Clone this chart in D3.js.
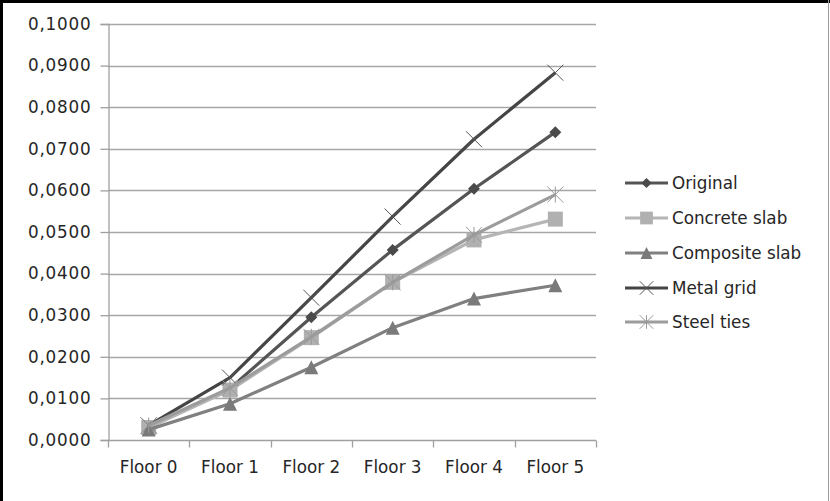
<!DOCTYPE html>
<html>
<head>
<meta charset="utf-8">
<script src="https://cdn.jsdelivr.net/npm/d3@7"></script>
<style>
  html, body { margin: 0; padding: 0; background: #fff; }
  svg { display: block; }
  text { font-family: "DejaVu Sans", "Open Sans", sans-serif; fill: #262626; }
</style>
</head>
<body>
<svg id="chart" width="830" height="501"></svg>
<script>
// Storey drift per floor for each strengthening option
const floors = ["Floor 0", "Floor 1", "Floor 2", "Floor 3", "Floor 4", "Floor 5"];
const seriesNames = ["Original", "Concrete slab", "Composite slab", "Metal grid", "Steel ties"];
const original      = [0.0030, 0.0124, 0.0295, 0.0457, 0.0604, 0.0740];
const concreteSlab  = [0.0030, 0.0120, 0.0246, 0.0379, 0.0481, 0.0531];
const compositeSlab = [0.0025, 0.0087, 0.0175, 0.0270, 0.0340, 0.0372];
const metalGrid     = [0.0035, 0.0150, 0.0342, 0.0537, 0.0723, 0.0883];
const steelTies     = [0.0035, 0.0125, 0.0248, 0.0379, 0.0493, 0.0590];
const yTicks = [0, 0.01, 0.02, 0.03, 0.04, 0.05, 0.06, 0.07, 0.08, 0.09, 0.10];

const seriesValues = [original, concreteSlab, compositeSlab, metalGrid, steelTies];
const styles = [
  { color: "#555555", markColor: "#4a4a4a", marker: "diamond" },
  { color: "#b5b5b5", markColor: "#b0b0b0", marker: "square" },
  { color: "#808080", markColor: "#7a7a7a", marker: "triangle" },
  { color: "#454545", markColor: "#555555", marker: "x" },
  { color: "#9c9c9c", markColor: "#999999", marker: "star" }
];

const svg = d3.select("#chart");
const W = 830, H = 501;
const FONT = 16.8;

// frame
svg.append("rect").attr("x", 0).attr("y", 0).attr("width", W).attr("height", H).attr("fill", "#fff");
svg.append("line").attr("x1", 1.5).attr("x2", 1.5).attr("y1", 0).attr("y2", H).attr("stroke", "#000").attr("stroke-width", 3);
svg.append("line").attr("x1", 0).attr("x2", W).attr("y1", 1.5).attr("y2", 1.5).attr("stroke", "#000").attr("stroke-width", 3);
svg.append("line").attr("x1", 828.5).attr("x2", 828.5).attr("y1", 0).attr("y2", H).attr("stroke", "#9a9a9a").attr("stroke-width", 1);

const plot = { left: 108, right: 596, top: 24, bottom: 440 };

const x = d3.scaleBand().domain(floors).range([plot.left, plot.right]).padding(0);
const y = d3.scaleLinear().domain([0, 0.10]).range([plot.bottom, plot.top]);

const locale = d3.formatLocale({ decimal: ",", thousands: ".", grouping: [3], currency: ["", ""] });
const fmt = locale.format(".4f");

// horizontal gridlines
svg.append("g").selectAll("line").data(yTicks.slice(1)).join("line")
  .attr("x1", plot.left).attr("x2", plot.right)
  .attr("y1", d => Math.round(y(d)) + 0.5).attr("y2", d => Math.round(y(d)) + 0.5)
  .attr("stroke", "#a6a6a6").attr("stroke-width", 1.3);

// y axis
const yAxis = svg.append("g").attr("transform", `translate(${plot.left + 0.5},0)`)
  .call(d3.axisLeft(y).tickValues(yTicks).tickFormat(fmt).tickSize(8).tickPadding(9));
yAxis.select(".domain").attr("stroke", "#a0a0a0").attr("stroke-width", 1.3);
yAxis.selectAll(".tick line").attr("stroke", "#a0a0a0").attr("stroke-width", 1.3);
yAxis.selectAll(".tick text").attr("font-size", FONT).attr("letter-spacing", 0.8)
  .attr("font-family", "\"DejaVu Sans\", sans-serif").attr("fill", "#262626");

// x axis with ticks on band edges
const xAxisG = svg.append("g").attr("transform", `translate(0,${plot.bottom + 0.5})`);
xAxisG.append("line").attr("x1", plot.left).attr("x2", plot.right).attr("y1", 0).attr("y2", 0)
  .attr("stroke", "#a0a0a0").attr("stroke-width", 1.5);
const edges = floors.map(f => x(f)).concat([x.range()[1]]);
xAxisG.selectAll("line.edge").data(edges).join("line").attr("class", "edge")
  .attr("x1", d => Math.round(d) + 0.5).attr("x2", d => Math.round(d) + 0.5)
  .attr("y1", 0).attr("y2", 7).attr("stroke", "#a0a0a0").attr("stroke-width", 1.3);
xAxisG.selectAll("text").data(floors).join("text")
  .attr("x", d => x(d) + x.bandwidth() / 2).attr("y", 32)
  .attr("text-anchor", "middle").attr("font-size", FONT).text(d => d);

// marker drawing
function drawMarker(g, type, color, size) {
  const s = size;
  if (type === "diamond") {
    g.append("path").attr("d", `M0,${-s/2}L${s/2},0L0,${s/2}L${-s/2},0Z`).attr("fill", color);
  } else if (type === "square") {
    g.append("rect").attr("x", -s/2).attr("y", -s/2).attr("width", s).attr("height", s).attr("fill", color);
  } else if (type === "triangle") {
    g.append("path").attr("d", `M0,${-s/2}L${s/2},${s/2}L${-s/2},${s/2}Z`).attr("fill", color);
  } else if (type === "x") {
    g.append("path").attr("d", `M${-s/2},${-s/2}L${s/2},${s/2}M${-s/2},${s/2}L${s/2},${-s/2}`)
      .attr("stroke", color).attr("stroke-width", 1).attr("fill", "none");
  } else if (type === "star") {
    g.append("path").attr("d", `M${-s/2},${-s/2}L${s/2},${s/2}M${-s/2},${s/2}L${s/2},${-s/2}M0,${-s/2}L0,${s/2}`)
      .attr("stroke", color).attr("stroke-width", 1).attr("fill", "none");
  }
}

const markerSize = { diamond: 12, square: 15, triangle: 14, x: 16, star: 16 };

const line = d3.line().x((d, i) => x(floors[i]) + x.bandwidth() / 2).y(d => y(d));

seriesValues.forEach((vals, si) => {
  const st = styles[si];
  const g = svg.append("g");
  g.append("path").datum(vals).attr("d", line)
    .attr("fill", "none").attr("stroke", st.color).attr("stroke-width", 3.2)
    .attr("stroke-linejoin", "round");
  vals.forEach((v, i) => {
    const m = g.append("g").attr("transform", `translate(${x(floors[i]) + x.bandwidth() / 2},${y(v)})`);
    drawMarker(m, st.marker, st.markColor, markerSize[st.marker]);
  });
});

// legend
const legendRows = [183, 218, 253, 288, 322];
const legend = svg.append("g");
seriesNames.forEach((name, i) => {
  const st = styles[i];
  const ly = legendRows[i];
  legend.append("line").attr("x1", 625).attr("x2", 668).attr("y1", ly).attr("y2", ly)
    .attr("stroke", st.color).attr("stroke-width", 3.2);
  const m = legend.append("g").attr("transform", `translate(646.5,${ly})`);
  drawMarker(m, st.marker, st.markColor, markerSize[st.marker] * 0.85);
  legend.append("text").attr("x", 672).attr("y", ly).attr("dy", "0.35em")
    .attr("font-size", FONT).text(name);
});
</script>
</body>
</html>
